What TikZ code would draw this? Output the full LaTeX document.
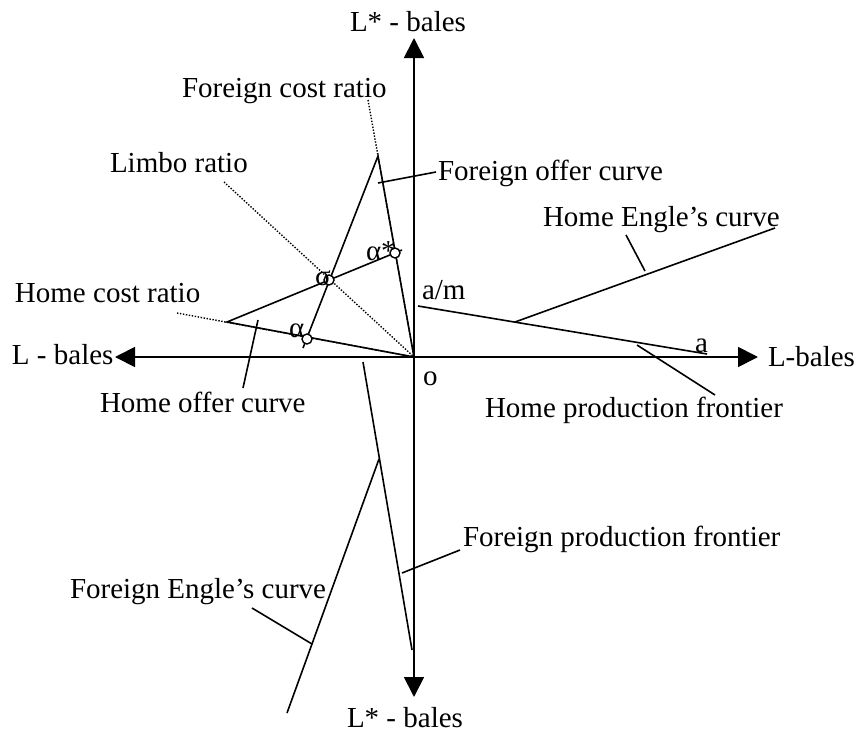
\documentclass[tikz,border=0pt]{standalone}
\usepackage{fontspec}
\setmainfont{Liberation Serif}
\usetikzlibrary{arrows.meta}
\begin{document}
\begin{tikzpicture}[x=1pt,y=-1pt,
  every node/.style={inner sep=0pt, outer sep=0pt, font=\fontsize{29}{34}\selectfont},
  ln/.style={line width=1.6pt},
  ax/.style={line width=1.8pt, {Triangle[length=20pt,width=20pt]}-{Triangle[length=20pt,width=20pt]}},
  dots/.style={line width=1.4pt, dash pattern=on 1.4pt off 1.6pt},
  pt/.style={circle, draw, fill=white, line width=1.4pt, minimum size=10pt, inner sep=0pt},
  lbl/.style={anchor=base west}]
\useasboundingbox (0,0) rectangle (860,736);
% key points
\coordinate (O) at (414,357);
\coordinate (ytop) at (414,38);
\coordinate (ybot) at (414,697);
\coordinate (xl) at (115,357);
\coordinate (xr) at (758,357);
\coordinate (fcr) at (368,100);
\coordinate (lr) at (224,182);
\coordinate (hcr) at (177,313);
\coordinate (F) at (378,156);
\coordinate (H) at (227,322);
\coordinate (A) at (307,339);
\coordinate (As) at (395,253);
\coordinate (S) at (329,280);
\coordinate (Fend) at (303,348);
\coordinate (Hend) at (402,250);
\coordinate (am) at (418,306);
\coordinate (aa) at (707,354);
\coordinate (he0) at (515,322);
\coordinate (he1) at (775,228);
\coordinate (fp0) at (363,362);
\coordinate (fp1) at (412,650);
\coordinate (fe0) at (379,459);
\coordinate (fe1) at (287,713);
% axes
\draw[ax] (ybot) -- (ytop);
\draw[ax] (xl) -- (xr);
% ratios
\draw[dots] (fcr) -- (O);
\draw[dots] (lr) -- (O);
\draw[dots] (hcr) -- (O);
% offer curves
\draw[ln] (O) -- (F) -- (Fend);
\draw[ln] (O) -- (H) -- (Hend);
% production frontiers and Engle's curves
\draw[ln] (am) -- (aa);
\draw[ln] (he0) -- (he1);
\draw[ln] (fp0) -- (fp1);
\draw[ln] (fe0) -- (fe1);
% labels
\node[lbl] (tFcr) at (182,97) {Foreign cost ratio};
\node[lbl] (tLr) at (110,172) {Limbo ratio};
\node[lbl] (tHcr) at (15,302) {Home cost ratio};
\node[lbl] (tFoc) at (438,180) {Foreign offer curve};
\node[lbl] (tHec) at (543,226) {Home Engle’s curve};
\node[lbl] (tHoc) at (100,412) {Home offer curve};
\node[lbl] (tHpf) at (485,417) {Home production frontier};
\node[lbl] (tFpf) at (463,546) {Foreign production frontier};
\node[lbl] (tFec) at (70,598) {Foreign Engle’s curve};
\node[lbl] (tYt) at (350,31) {L* - bales};
\node[lbl] (tYb) at (347,727) {L* - bales};
\node[lbl] (tXl) at (12,364) {L - bales};
\node[lbl] (tXr) at (768,366) {L-bales};
\node[lbl] (tO) at (423,385) {o};
\node[lbl] (ta) at (695,352) {a};
\node[lbl] (tam) at (422,299) {a/m};
% leaders
\coordinate (lFoc0) at (378,183); \coordinate (lFoc1) at (436,172);
\coordinate (lHoc0) at (258,320); \coordinate (lHoc1) at (243,388);
\coordinate (lHec0) at (645,271); \coordinate (lHec1) at (626,235);
\coordinate (lHpf0) at (637,345); \coordinate (lHpf1) at (715,395);
\coordinate (lFpf0) at (402,573); \coordinate (lFpf1) at (460,550);
\coordinate (lFec0) at (312,644); \coordinate (lFec1) at (252,608);
\draw[ln] (lFoc0) -- (lFoc1);
\draw[ln] (lHoc0) -- (lHoc1);
\draw[ln] (lHec0) -- (lHec1);
\draw[ln] (lHpf0) -- (lHpf1);
\draw[ln] (lFpf0) -- (lFpf1);
\draw[ln] (lFec0) -- (lFec1);
% equilibrium points
\node[pt] (cA) at (A) {};
\node[pt] (cAs) at (As) {};
\node[pt] (cS) at (S) {};
\node[lbl] (tA) at (289,337) {α};
\node[lbl] (tS) at (315,285) {σ};
\node[lbl] (tAs) at (366,260) {α*};
\end{tikzpicture}
\end{document}
